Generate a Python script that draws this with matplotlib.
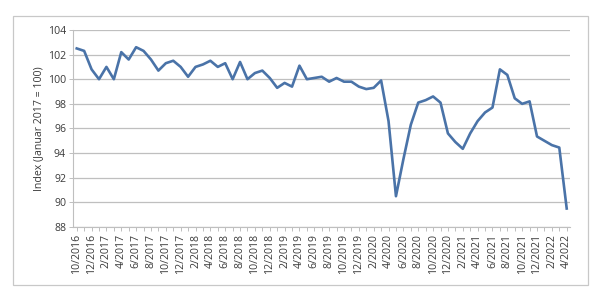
import matplotlib
matplotlib.use('Agg')
import matplotlib.pyplot as plt
from matplotlib.patches import Rectangle

# monthly index, 10/2016 .. 4/2022
months = [f'{m}/{y}' for y, ms in [(2016, range(10, 13)), (2017, range(1, 13)), (2018, range(1, 13)),
                                      (2019, range(1, 13)), (2020, range(1, 13)), (2021, range(1, 13)),
                                      (2022, range(1, 5))] for m in ms]
values = [
    102.5, 102.3, 100.8, 100.0, 101.0, 100.0, 102.2, 101.6, 102.6, 102.3,
    101.6, 100.7, 101.3, 101.5, 101.0, 100.2, 101.0, 101.2, 101.5, 101.0,
    101.3, 100.0, 101.4, 100.0, 100.5, 100.7, 100.1, 99.3, 99.7, 99.4,
    101.1, 100.0, 100.1, 100.2, 99.8, 100.1, 99.8, 99.8, 99.4, 99.2,
    99.3, 99.9, 96.6, 90.5, 93.5, 96.3, 98.1, 98.3, 98.6, 98.1,
    95.6, 94.9, 94.35, 95.6, 96.6, 97.3, 97.7, 100.8, 100.35, 98.45,
    98.0, 98.2, 95.35, 95.0, 94.65, 94.45, 89.5,
]
y_ticks = [88, 90, 92, 94, 96, 98, 100, 102, 104]

plt.rcParams['font.family'] = ['Open Sans', 'DejaVu Sans']
TXT = '#3a3a3a'
GRID = '#bfbfbf'
FS = 7.6

fig = plt.figure(figsize=(6.0, 2.99), dpi=100)
fig.patches.append(Rectangle((13 / 600, 1 - 285 / 299), 575 / 600, 269 / 299,
                             transform=fig.transFigure, fill=False,
                             edgecolor='#c8c8c8', linewidth=0.9))

ax = fig.add_axes([0.1217, 0.2408, 0.829, 0.659])
x = list(range(len(values)))
ax.plot(x, values, color='#4a73a8', linewidth=1.9, solid_joinstyle='round')

ax.set_xlim(-0.5, len(values) - 0.5)
ax.set_ylim(88, 104)
ax.set_yticks(y_ticks)
ax.set_yticklabels([str(v) for v in y_ticks], fontsize=FS, color=TXT)
ax.set_xticks(x[::2])
ax.set_xticklabels(months[::2], rotation=90, fontsize=FS, color=TXT)
ax.set_xticks(x, minor=True)
ax.grid(axis='y', color=GRID, linewidth=0.9)
ax.set_axisbelow(True)

for s in ['top', 'right']:
    ax.spines[s].set_visible(False)
for s in ['left', 'bottom']:
    ax.spines[s].set_color(GRID)
    ax.spines[s].set_linewidth(0.8)
ax.tick_params(axis='both', which='both', color=GRID, length=3, width=0.7, pad=2)
ax.tick_params(axis='x', which='minor', length=3)

ax.set_ylabel('Index (Januar 2017 = 100)', fontsize=FS, color=TXT, labelpad=3)

fig.savefig('out.png', dpi=100)
